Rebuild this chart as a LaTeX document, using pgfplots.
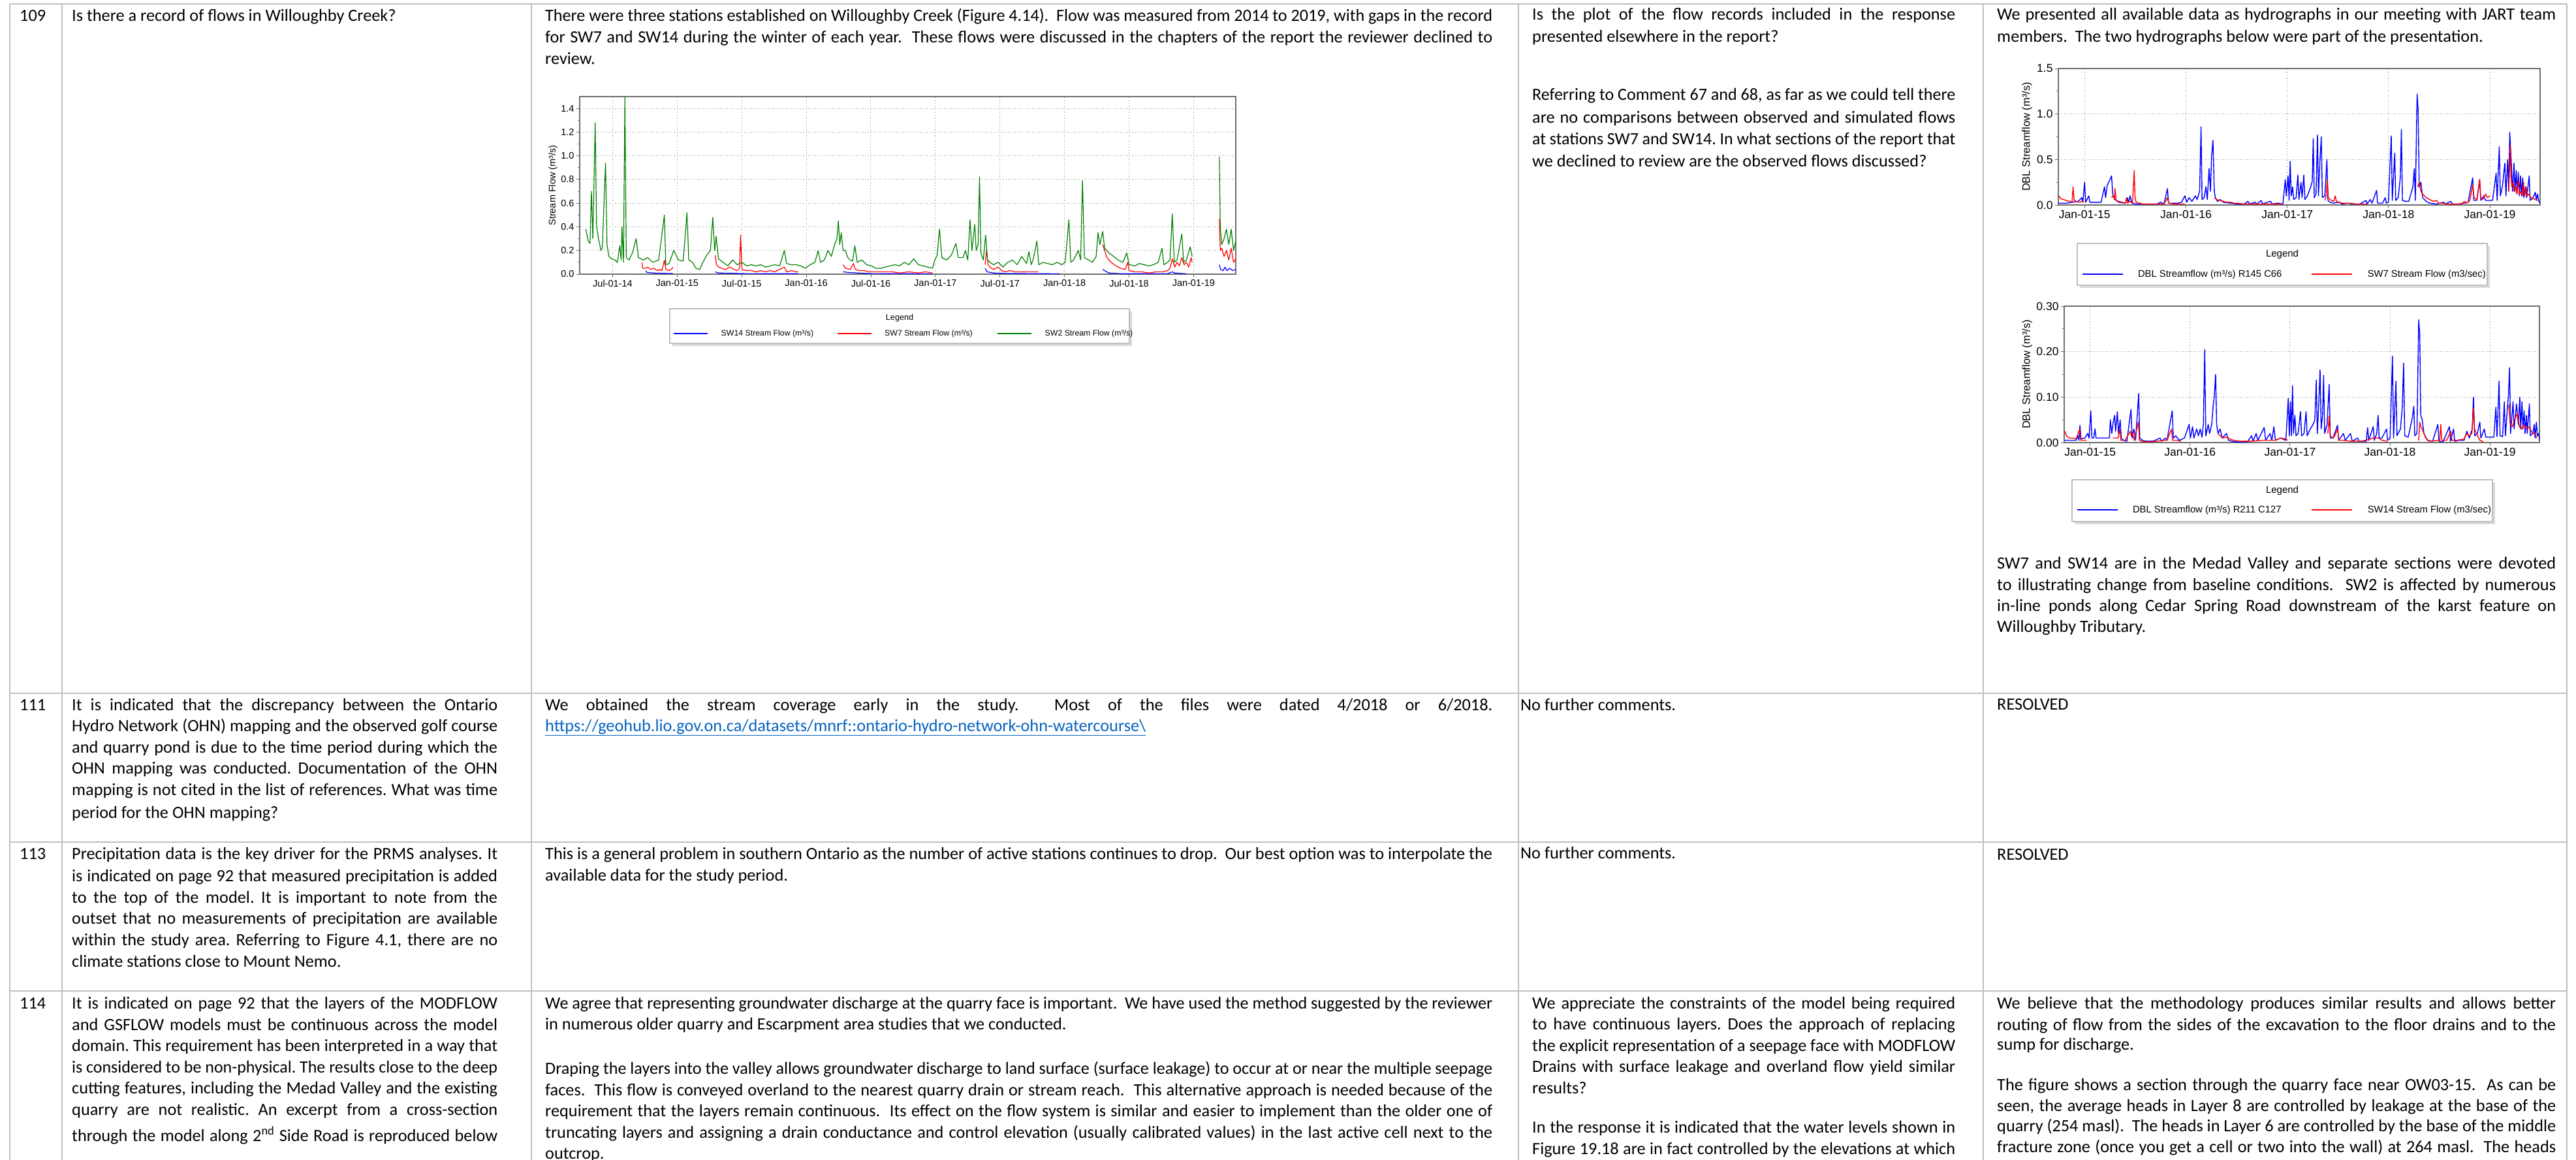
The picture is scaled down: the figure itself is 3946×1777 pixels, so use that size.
\documentclass[border=0pt]{standalone}
\usepackage{pgfplots}
\pgfplotsset{compat=1.18}
\usepackage{graphicx}
\usepackage{fontspec}
\setmainfont{Carlito}
\newfontfamily\arial{Liberation Sans}
\definecolor{tbl}{RGB}{191,191,191}
\definecolor{sgreen}{RGB}{0,128,0}
\definecolor{sred}{RGB}{255,0,0}
\definecolor{sblue}{RGB}{0,0,255}
\definecolor{linkc}{RGB}{5,99,193}
\definecolor{frame}{RGB}{110,110,110}
\newcommand\body{\fontsize{26.3}{32.5}\selectfont\frenchspacing}
\newlength\natw
\newcommand\fit[2]{\settowidth\natw{#2}\ifdim\natw>#1pt\resizebox{#1pt}{\height}{#2}\else\makebox[#1pt][s]{#2}\fi}
\newcommand\TL[3]{\node[anchor=base west,inner sep=0pt,font=\body] at (#1pt,-#2pt) {#3};}
\newcommand\JL[4]{\node[anchor=base west,inner sep=0pt,font=\body] at (#1pt,-#2pt) {\fit{#3}{#4}};}
\pgfplotsset{
 hydro/.style={scale only axis, anchor=south west,
  axis line style={draw=frame, line width=1.3pt},
  tick pos=left, tick align=outside, major tick length=5pt, minor tick length=3pt,
  tick style={frame, line width=0.9pt},
  grid=major, major grid style={gray!70, line width=1pt, dash pattern=on 1.5pt off 3pt},
  /pgf/number format/assume math mode=true, scaled y ticks=false,
  unbounded coords=jump, legend cell align=left,
  legend style={draw=none, fill=none, inner sep=0pt, anchor=west, nodes={inner sep=0pt}},
  every axis plot/.append style={line width=1.4pt, line join=round},
 },
}
\begin{document}
\begin{tikzpicture}
\path[use as bounding box] (0,0) rectangle (3946pt,-1777pt);
\fill[white] (0,0) rectangle (3946pt,-1777pt);
% table grid
\begin{scope}[tbl, line width=2.5pt]
\draw (15pt,-6pt) -- (3932pt,-6pt);
\draw (15pt,-1062pt) -- (3932pt,-1062pt);
\draw (15pt,-1290pt) -- (3932pt,-1290pt);
\draw (15pt,-1518pt) -- (3932pt,-1518pt);
\foreach \x in {15,95,814,2326,3038,3932} {\draw (\x pt,-6pt) -- (\x pt,-1777pt);}
\end{scope}
% legend boxes
\fill[gray!30] (1030pt,-477pt) rectangle (1734pt,-530pt);
\draw[fill=white, draw=gray!50, line width=1.5pt] (1026pt,-473pt) rectangle (1730pt,-526pt);
\node[font=\arial\fontsize{12.6}{14}\selectfont] at (1378pt,-487pt) {Legend};
\fill[gray!30] (3186pt,-377pt) rectangle (3814pt,-441pt);
\draw[fill=white, draw=gray!50, line width=1.5pt] (3182pt,-373pt) rectangle (3810pt,-437pt);
\node[font=\arial\fontsize{15}{17}\selectfont] at (3496pt,-390pt) {Legend};
\fill[gray!30] (3178pt,-739pt) rectangle (3822pt,-803pt);
\draw[fill=white, draw=gray!50, line width=1.5pt] (3174pt,-735pt) rectangle (3818pt,-799pt);
\node[font=\arial\fontsize{15}{17}\selectfont] at (3496pt,-752pt) {Legend};

% ---------- chart 1 ----------
\begin{axis}[hydro, at={(888pt,-420pt)}, width=1005pt, height=272pt,
 xmin=2.94, xmax=63.92, ymin=0, ymax=1.5,
 xtick={6,12,18,24,30,36,42,48,54,60},
 xticklabels={Jul-01-14,Jan-01-15,Jul-01-15,Jan-01-16,Jul-01-16,Jan-01-17,Jul-01-17,Jan-01-18,Jul-01-18,Jan-01-19},
 ytick={0,0.2,0.4,0.6,0.8,1.0,1.2,1.4}, minor ytick={0.1,0.3,0.5,0.7,0.9,1.1,1.3},
 /pgf/number format/fixed, /pgf/number format/fixed zerofill, /pgf/number format/precision=1,
 tick label style={font=\arial\fontsize{14.5}{16}\selectfont},
 ylabel={Stream Flow (m³/s)},
 ylabel style={font=\arial\fontsize{14.5}{16}\selectfont, at={(axis description cs:-0.0408,0.5)}, anchor=center},
 legend columns=3,
 legend style={at={(axis description cs:0.1423,-0.3346)}, font=\arial\fontsize{12.3}{14}\selectfont,
  /tikz/every odd column/.append style={column sep=19pt}},
 legend image code/.code={\draw[#1, line width=2.5pt] (0pt,0pt) -- (52pt,0pt);},
 every axis plot/.append style={line width=1.2pt},
]
\addplot[sblue] coordinates {(9.06,0.03)(9.19,0.015)(9.72,0.01)(10.37,0.008)(11.60,0.005)(11.7,nan)(15.53,0.02)(15.84,0.01)(16.93,0.008)(18.24,0.005)(23.27,0.004)(23.4,nan)(27.42,0.02)(27.86,0.015)(28.73,0.01)(30.04,0.005)(35.73,0.003)(35.8,nan)(40.62,0.05)(40.80,0.02)(41.41,0.01)(42.72,0.005)(44.47,0.005)(47.53,0.003)(47.6,nan)(51.55,0.04)(51.73,0.03)(52.12,0.01)(53.21,0.004)(57.59,0.005)(58.02,0.02)(58.24,0.01)(59.33,0.003)(59.4,nan)(62.39,0.08)(62.52,0.04)(62.74,0.03)(62.92,0.06)(63.09,0.03)(63.36,0.05)(63.62,0.03)(63.92,0.04)};
\addlegendentry{\makebox[177pt][l]{SW14 Stream Flow (m³/s)}}
\addplot[sred] coordinates {(8.71,0.10)(8.80,0.05)(9.06,0.05)(9.28,0.06)(9.50,0.04)(9.85,0.05)(10.15,0.03)(10.37,0.04)(10.59,0.03)(10.81,0.12)(10.94,0.04)(11.25,0.03)(11.55,0.05)(11.60,0.06)(11.7,nan)
(15.53,0.16)(15.66,0.08)(15.84,0.06)(16.14,0.05)(16.49,0.04)(16.93,0.06)(17.28,0.04)(17.58,0.03)(17.80,0.05)(17.89,0.33)(18.02,0.04)(18.46,0.03)(18.90,0.03)(19.33,0.02)(19.77,0.03)(20.21,0.02)(20.64,0.03)(21.08,0.02)(21.52,0.04)(21.96,0.06)(22.17,0.02)(22.61,0.03)(23.05,0.02)(23.27,0.02)(23.4,nan)
(27.42,0.08)(27.64,0.05)(28.08,0.04)(28.38,0.09)(28.56,0.04)(28.95,0.03)(29.39,0.03)(29.83,0.02)(30.26,0.02)(30.70,0.02)(31.36,0.02)(32.01,0.02)(32.67,0.01)(33.54,0.02)(34.42,0.01)(35.07,0.02)(35.73,0.01)(35.8,nan)
(40.62,0.08)(40.75,0.20)(40.89,0.08)(41.06,0.06)(41.41,0.04)(41.85,0.06)(42.15,0.03)(42.50,0.02)(42.94,0.03)(43.38,0.02)(44.03,0.02)(44.69,0.02)(45.56,0.02)(45.6,nan)
(51.55,0.25)(51.73,0.20)(51.90,0.15)(52.12,0.12)(52.34,0.10)(52.78,0.07)(53.21,0.05)(53.65,0.04)(53.87,0.10)(54.00,0.03)(54.53,0.02)(55.18,0.02)(55.84,0.01)(56.49,0.02)(57.15,0.02)(57.59,0.03)(57.80,0.05)(58.02,0.13)(58.24,0.06)(58.46,0.10)(58.68,0.07)(58.90,0.14)(59.12,0.08)(59.33,0.10)(59.55,0.06)(59.77,0.14)(59.86,0.10)(59.9,nan)
(62.39,0.47)(62.48,0.20)(62.61,0.22)(62.83,0.15)(63.05,0.20)(63.27,0.12)(63.49,0.22)(63.71,0.10)(63.92,0.13)};
\addlegendentry{\makebox[172pt][l]{SW7 Stream Flow (m³/s)}}
\addplot[sgreen] coordinates {(3.51,0.38)(3.73,0.28)(3.90,0.26)(4.03,0.70)(4.16,0.30)(4.38,1.28)(4.51,0.40)(4.69,0.30)(4.91,0.20)(5.04,0.22)(5.34,0.94)(5.48,0.25)(5.65,0.15)(5.91,0.13)(6.22,0.12)(6.44,0.10)(6.66,0.24)(6.79,0.12)(6.87,0.40)(7.01,0.10)(7.14,1.50)(7.27,0.14)(7.53,0.12)(7.84,0.18)(8.19,0.30)(8.40,0.14)(8.84,0.12)(9.28,0.14)(9.72,0.10)(10.28,0.12)(10.81,0.50)(10.94,0.08)(11.25,0.09)(11.68,0.20)(12.12,0.12)(12.56,0.11)(12.91,0.52)(13.08,0.12)(13.43,0.10)(13.74,0.05)(14.09,0.04)(14.39,0.10)(14.74,0.16)(15.09,0.20)(15.31,0.48)(15.49,0.20)(15.62,0.32)(15.84,0.13)(16.27,0.10)(16.71,0.07)(17.15,0.12)(17.58,0.08)(18.02,0.10)(18.46,0.07)(18.90,0.08)(19.33,0.07)(19.77,0.08)(20.21,0.06)(20.64,0.07)(21.08,0.08)(21.52,0.07)(21.96,0.20)(22.17,0.09)(22.61,0.08)(23.05,0.08)(23.49,0.07)(23.92,0.05)(24.36,0.08)(24.80,0.10)(25.10,0.20)(25.32,0.10)(25.67,0.12)(26.02,0.20)(26.33,0.15)(26.63,0.25)(26.85,0.30)(26.98,0.45)(27.11,0.25)(27.25,0.35)(27.42,0.20)(27.64,0.20)(27.86,0.14)(28.08,0.12)(28.30,0.11)(28.51,0.24)(28.73,0.10)(29.17,0.12)(29.61,0.08)(30.04,0.07)(30.48,0.05)(30.92,0.05)(31.36,0.06)(31.79,0.07)(32.23,0.08)(32.67,0.07)(33.10,0.10)(33.54,0.08)(33.98,0.13)(34.42,0.08)(34.85,0.07)(35.29,0.06)(35.73,0.05)(35.95,0.12)(36.16,0.16)(36.38,0.38)(36.60,0.14)(37.04,0.12)(37.48,0.16)(37.91,0.26)(38.13,0.14)(38.57,0.14)(38.79,0.20)(39.01,0.12)(39.22,0.46)(39.40,0.20)(39.66,0.42)(39.79,0.20)(39.97,0.25)(40.10,0.82)(40.23,0.18)(40.45,0.12)(40.67,0.33)(40.84,0.12)(41.06,0.10)(41.41,0.08)(41.85,0.10)(42.28,0.06)(42.72,0.10)(43.16,0.12)(43.60,0.08)(44.03,0.15)(44.47,0.09)(44.69,0.19)(44.91,0.08)(45.13,0.14)(45.43,0.28)(45.61,0.08)(46.00,0.10)(46.44,0.09)(46.87,0.08)(47.31,0.10)(47.75,0.08)(48.06,0.10)(48.41,0.46)(48.58,0.10)(48.84,0.12)(49.28,0.20)(49.50,0.12)(49.67,0.79)(49.85,0.14)(50.24,0.12)(50.59,0.10)(50.94,0.15)(51.11,0.35)(51.29,0.25)(51.55,0.36)(51.73,0.22)(52.12,0.18)(52.56,0.15)(52.99,0.12)(53.43,0.10)(53.78,0.18)(54.00,0.08)(54.53,0.07)(54.96,0.09)(55.40,0.08)(55.84,0.07)(56.27,0.08)(56.71,0.10)(57.06,0.22)(57.24,0.08)(57.59,0.10)(57.80,0.12)(58.02,0.51)(58.20,0.10)(58.46,0.12)(58.90,0.34)(59.07,0.10)(59.33,0.12)(59.68,0.23)(59.86,0.15)(59.9,nan)(62.39,0.99)(62.48,0.40)(62.61,0.25)(62.83,0.30)(63.05,0.38)(63.27,0.25)(63.49,0.38)(63.71,0.20)(63.92,0.28)};
\addlegendentry{SW2 Stream Flow (m³/s)}
\end{axis}

% ---------- chart 2 ----------
\begin{axis}[hydro, at={(3153pt,-314pt)}, width=738pt, height=209pt,
 xmin=8.89, xmax=65.95, ymin=0, ymax=1.5,
 xtick={12,24,36,48,60}, xticklabels={Jan-01-15,Jan-01-16,Jan-01-17,Jan-01-18,Jan-01-19},
 ytick={0,0.5,1.0,1.5}, minor ytick={0.25,0.75,1.25},
 /pgf/number format/fixed, /pgf/number format/fixed zerofill, /pgf/number format/precision=1,
 tick label style={font=\arial\fontsize{17.5}{19}\selectfont},
 ylabel={DBL Streamflow (m³/s)},
 ylabel style={font=\arial\fontsize{16.5}{18}\selectfont, at={(axis description cs:-0.065,0.5)}, anchor=center},
 legend columns=2,
 legend style={at={(axis description cs:0.0474,-0.5072)}, font=\arial\fontsize{14.8}{17}\selectfont,
  /tikz/every odd column/.append style={column sep=22pt}},
 legend image code/.code={\draw[#1, line width=2.8pt] (0pt,0pt) -- (62pt,0pt);},
]
\addplot[sblue] coordinates {(8.89,0.02)(9.18,0.02)(9.81,0.02)(10.63,0.03)(11.25,0.04)(11.67,0.08)(11.79,0.03)(12.00,0.25)(12.12,0.03)(12.50,0.10)(12.62,0.03)(13.12,0.03)(13.95,0.03)(14.36,0.20)(14.48,0.08)(14.69,0.22)(14.86,0.25)(15.02,0.28)(15.19,0.32)(15.35,0.10)(15.60,0.06)(16.02,0.03)(16.84,0.02)(17.05,0.08)(17.22,0.03)(17.38,0.10)(17.59,0.02)(18.09,0.01)(18.92,0.01)(19.74,0.01)(20.57,0.01)(20.99,0.03)(21.40,0.01)(21.81,0.18)(21.94,0.02)(22.43,0.02)(23.06,0.02)(23.47,0.03)(23.88,0.10)(24.09,0.03)(24.38,0.08)(24.71,0.04)(25.13,0.10)(25.33,0.06)(25.62,0.15)(25.79,0.86)(25.91,0.06)(26.16,0.08)(26.37,0.20)(26.53,0.06)(26.74,0.40)(26.91,0.15)(27.03,0.52)(27.20,0.71)(27.36,0.15)(27.49,0.08)(27.74,0.04)(28.03,0.06)(28.44,0.03)(29.27,0.02)(30.10,0.01)(30.92,0.01)(31.34,0.04)(31.54,0.01)(32.17,0.03)(32.37,0.01)(32.91,0.05)(33.08,0.01)(33.62,0.03)(34.03,0.04)(34.24,0.01)(34.86,0.02)(35.48,0.01)(35.77,0.28)(35.89,0.10)(36.10,0.32)(36.22,0.05)(36.35,0.48)(36.47,0.10)(36.64,0.20)(36.76,0.06)(37.05,0.08)(37.26,0.33)(37.38,0.06)(37.63,0.25)(37.76,0.08)(37.96,0.33)(38.09,0.06)(38.38,0.10)(38.58,0.15)(38.79,0.20)(38.96,0.26)(39.08,0.73)(39.20,0.08)(39.41,0.12)(39.58,0.77)(39.70,0.10)(39.87,0.48)(40.03,0.75)(40.16,0.08)(40.45,0.10)(40.70,0.50)(40.82,0.05)(41.07,0.03)(41.48,0.02)(42.10,0.03)(42.52,0.01)(43.14,0.02)(43.76,0.01)(44.59,0.01)(45.33,0.05)(45.46,0.01)(45.83,0.06)(46.04,0.02)(46.58,0.16)(46.70,0.02)(47.28,0.02)(47.61,0.08)(47.74,0.02)(47.98,0.03)(48.32,0.76)(48.44,0.05)(48.73,0.57)(48.85,0.05)(49.14,0.08)(49.39,0.30)(49.52,0.83)(49.64,0.05)(49.97,0.04)(50.39,0.04)(50.88,0.20)(51.05,0.40)(51.17,0.05)(51.38,1.22)(51.50,1.05)(51.63,0.20)(51.83,0.25)(52.04,0.08)(52.46,0.04)(52.87,0.02)(53.70,0.01)(54.53,0.03)(54.73,0.01)(55.35,0.04)(55.56,0.01)(56.18,0.01)(57.01,0.02)(57.42,0.03)(57.96,0.30)(58.09,0.05)(58.46,0.05)(58.79,0.28)(58.92,0.05)(59.29,0.10)(59.49,0.05)(59.99,0.05)(60.32,0.05)(60.74,0.35)(60.86,0.05)(61.11,0.64)(61.24,0.10)(61.48,0.20)(61.77,0.46)(61.90,0.10)(62.10,0.50)(62.23,0.15)(62.35,0.80)(62.55,0.45)(62.68,0.15)(62.86,0.46)(62.96,0.15)(63.12,0.38)(63.22,0.12)(63.37,0.36)(63.48,0.10)(63.63,0.32)(63.73,0.10)(63.89,0.30)(64.02,0.08)(64.22,0.20)(64.35,0.08)(64.66,0.32)(64.76,0.05)(65.12,0.08)(65.38,0.14)(65.51,0.05)(65.64,0.12)(65.79,0.04)(65.95,0.02)};
\addlegendentry{\makebox[265pt][l]{DBL Streamflow (m³/s) R145 C66}}
\addplot[sred] coordinates {(8.98,0.10)(9.14,0.07)(9.47,0.06)(9.81,0.05)(10.22,0.04)(10.51,0.03)(10.63,0.20)(10.76,0.05)(11.05,0.04)(11.38,0.03)(11.67,0.04)(11.88,0.03)(11.9,nan)
(15.19,0.08)(15.40,0.10)(15.52,0.06)(15.60,0.18)(15.73,0.05)(16.02,0.04)(16.43,0.03)(16.84,0.02)(16.97,0.08)(17.09,0.02)(17.34,0.04)(17.67,0.02)(17.88,0.38)(17.96,0.10)(18.09,0.03)(18.50,0.02)(18.92,0.01)(19.74,0.01)(20.57,0.01)(21.40,0.01)(21.81,0.08)(21.94,0.02)(22.64,0.01)(23.47,0.01)(23.88,0.01)(23.9,nan)
(27.40,0.08)(27.61,0.06)(28.03,0.05)(28.44,0.04)(28.85,0.03)(29.27,0.03)(29.68,0.02)(30.10,0.02)(30.92,0.01)(31.75,0.01)(32.99,0.01)(34.24,0.01)(35.48,0.01)(35.5,nan)
(40.45,0.05)(40.61,0.10)(40.74,0.28)(40.86,0.08)(41.07,0.06)(41.48,0.04)(41.69,0.10)(41.81,0.04)(42.10,0.03)(42.52,0.02)(43.35,0.02)(44.18,0.01)(45.42,0.01)(45.5,nan)
(51.46,0.20)(51.63,0.25)(51.83,0.15)(52.04,0.12)(52.25,0.10)(52.46,0.08)(52.87,0.06)(53.29,0.04)(53.70,0.05)(53.91,0.02)(54.32,0.02)(54.94,0.01)(55.77,0.01)(56.60,0.01)(57.01,0.04)(57.22,0.02)(57.63,0.05)(57.96,0.22)(58.13,0.08)(58.46,0.06)(58.79,0.28)(58.92,0.08)(59.16,0.06)(59.49,0.12)(59.70,0.08)(59.99,0.10)(60.0,nan)
(62.24,0.15)(62.42,0.66)(62.50,0.30)(62.60,0.20)(62.76,0.25)(62.86,0.15)(63.06,0.20)(63.19,0.12)(63.37,0.28)(63.48,0.12)(63.63,0.15)(63.84,0.10)(63.99,0.25)(64.09,0.10)(64.30,0.20)(64.40,0.10)(64.61,0.12)(64.87,0.08)(65.12,0.07)(65.38,0.06)(65.64,0.05)};
\addlegendentry{SW7 Stream Flow (m3/sec)}
\end{axis}

% ---------- chart 3 ----------
\begin{axis}[hydro, at={(3162pt,-678pt)}, width=728pt, height=209pt,
 xmin=8.89, xmax=65.95, ymin=0, ymax=0.3,
 xtick={12,24,36,48,60}, xticklabels={Jan-01-15,Jan-01-16,Jan-01-17,Jan-01-18,Jan-01-19},
 ytick={0,0.1,0.2,0.3}, minor ytick={0.05,0.15,0.25},
 /pgf/number format/fixed, /pgf/number format/fixed zerofill, /pgf/number format/precision=2,
 tick label style={font=\arial\fontsize{17.5}{19}\selectfont},
 ylabel={DBL Streamflow (m³/s)},
 ylabel style={font=\arial\fontsize{16.5}{18}\selectfont, at={(axis description cs:-0.078,0.5)}, anchor=center},
 legend columns=2,
 legend style={at={(axis description cs:0.0247,-0.4928)}, font=\arial\fontsize{14.8}{17}\selectfont,
  /tikz/every odd column/.append style={column sep=22pt}},
 legend image code/.code={\draw[#1, line width=2.8pt] (0pt,0pt) -- (62pt,0pt);},
]
\addplot[sblue] coordinates {(8.89,0.005)(9.48,0.005)(10.32,0.005)(10.53,0.015)(10.66,0.005)(10.78,0.038)(10.91,0.008)(11.37,0.01)(11.71,0.02)(11.87,0.01)(12.08,0.07)(12.21,0.01)(12.42,0.01)(12.59,0.03)(12.71,0.01)(13.68,0.01)(14.31,0.01)(14.43,0.05)(14.60,0.02)(14.77,0.045)(14.94,0.06)(15.06,0.025)(15.27,0.068)(15.40,0.02)(15.61,0.05)(15.73,0.01)(15.99,0.005)(16.41,0.003)(16.91,0.073)(17.04,0.01)(17.25,0.03)(17.46,0.005)(17.83,0.108)(17.96,0.01)(18.29,0.005)(18.71,0.003)(19.55,0.003)(20.39,0.01)(20.60,0.003)(21.02,0.01)(21.23,0.005)(21.86,0.07)(21.99,0.01)(22.28,0.015)(22.70,0.005)(23.33,0.01)(23.88,0.04)(24.04,0.01)(24.30,0.035)(24.46,0.01)(24.80,0.03)(25.01,0.015)(25.22,0.03)(25.43,0.012)(25.60,0.04)(25.76,0.205)(25.89,0.015)(26.18,0.04)(26.35,0.02)(26.60,0.04)(26.77,0.08)(26.90,0.10)(27.07,0.15)(27.19,0.04)(27.36,0.02)(27.61,0.03)(27.86,0.01)(28.37,0.02)(28.62,0.005)(29.21,0.002)(30.04,0.001)(30.88,0.002)(31.39,0.015)(31.56,0.003)(31.93,0.02)(32.14,0.005)(32.90,0.033)(33.07,0.005)(33.61,0.02)(33.82,0.005)(34.07,0.035)(34.24,0.005)(34.87,0.01)(35.50,0.005)(35.79,0.097)(35.92,0.015)(36.05,0.09)(36.17,0.015)(36.30,0.125)(36.42,0.02)(36.59,0.06)(36.72,0.015)(36.97,0.02)(37.26,0.068)(37.39,0.015)(37.68,0.02)(37.93,0.068)(38.06,0.015)(38.44,0.03)(38.77,0.04)(38.98,0.05)(39.15,0.137)(39.28,0.02)(39.44,0.08)(39.61,0.16)(39.74,0.03)(39.91,0.06)(40.03,0.148)(40.16,0.02)(40.45,0.04)(40.70,0.128)(40.83,0.01)(41.16,0.01)(41.71,0.038)(41.84,0.005)(42.42,0.02)(42.63,0.005)(43.26,0.02)(43.47,0.003)(44.10,0.01)(44.31,0.003)(45.15,0.003)(45.32,0.033)(45.45,0.005)(45.99,0.035)(46.12,0.005)(46.41,0.02)(46.58,0.06)(46.70,0.01)(47.04,0.01)(47.59,0.03)(47.71,0.005)(48.01,0.01)(48.30,0.19)(48.43,0.01)(48.72,0.135)(48.84,0.015)(49.26,0.03)(49.47,0.075)(49.64,0.175)(49.77,0.015)(50.19,0.012)(50.69,0.055)(50.86,0.08)(50.98,0.015)(51.24,0.02)(51.45,0.27)(51.57,0.24)(51.70,0.06)(51.87,0.05)(52.08,0.02)(52.50,0.005)(53.12,0.003)(53.75,0.04)(53.88,0.003)(54.38,0.002)(55.14,0.035)(55.27,0.003)(55.64,0.03)(55.77,0.003)(56.27,0.005)(56.90,0.005)(57.23,0.025)(57.53,0.01)(57.87,0.03)(58.03,0.10)(58.16,0.015)(58.49,0.02)(58.79,0.045)(58.91,0.01)(59.33,0.03)(59.50,0.012)(60.01,0.012)(60.47,0.012)(60.72,0.078)(60.85,0.013)(61.10,0.135)(61.22,0.015)(61.52,0.013)(61.73,0.09)(61.86,0.015)(62.23,0.107)(62.36,0.165)(62.48,0.02)(62.78,0.09)(62.90,0.03)(63.20,0.085)(63.41,0.04)(63.59,0.10)(63.69,0.03)(63.85,0.09)(63.96,0.03)(64.11,0.07)(64.22,0.02)(64.38,0.06)(64.48,0.02)(64.74,0.085)(64.85,0.015)(65.16,0.02)(65.32,0.04)(65.42,0.01)(65.58,0.045)(65.69,0.015)(65.84,0.02)(65.95,0.005)};
\addlegendentry{\makebox[273pt][l]{DBL Streamflow (m³/s) R211 C127}}
\addplot[sred] coordinates {(8.98,0.025)(9.15,0.015)(9.48,0.01)(9.90,0.01)(10.32,0.008)(10.74,0.03)(10.87,0.005)(11.16,0.005)(11.58,0.005)(11.6,nan)
(14.73,0.01)(15.36,0.01)(15.57,0.03)(15.69,0.005)(16.20,0.005)(16.83,0.025)(16.95,0.015)(17.12,0.02)(17.29,0.005)(17.79,0.045)(17.92,0.005)(18.29,0.002)(19.55,0.002)(20.81,0.005)(21.23,0.005)(21.78,0.03)(21.90,0.005)(22.49,0.005)(22.91,0.003)(23.0,nan)
(27.36,0.02)(27.61,0.015)(27.95,0.01)(28.37,0.012)(28.79,0.008)(29.21,0.005)(30.04,0.003)(31.30,0.003)(32.56,0.005)(33.40,0.005)(34.24,0.005)(34.87,0.01)(35.50,0.008)(35.71,0.005)(35.8,nan)
(40.54,0.02)(40.70,0.058)(40.83,0.015)(41.16,0.01)(41.37,0.015)(41.71,0.03)(41.84,0.005)(42.42,0.005)(43.26,0.003)(44.31,0.003)(45.15,0.005)(45.99,0.01)(46.62,0.01)(47.04,0.005)(47.67,0.003)(47.7,nan)
(51.45,0.005)(51.57,0.045)(51.70,0.035)(51.87,0.03)(52.08,0.02)(52.29,0.01)(52.71,0.003)(53.97,0.005)(54.10,0.04)(54.22,0.005)(54.81,0.005)(55.31,0.025)(55.44,0.005)(56.06,0.005)(56.90,0.008)(57.23,0.02)(57.53,0.015)(57.83,0.02)(58.03,0.075)(58.16,0.03)(58.37,0.02)(58.79,0.005)(59.21,0.002)(59.3,nan)
(62.27,0.083)(62.44,0.04)(62.69,0.035)(62.99,0.05)(63.28,0.065)(63.54,0.035)(63.80,0.03)(64.06,0.04)(64.32,0.03)(64.58,0.035)(64.85,0.03)(65.11,0.02)(65.37,0.02)(65.63,0.01)};
\addlegendentry{SW14 Stream Flow (m3/sec)}
\end{axis}

% ---------- text ----------
% row 109
\TL{30}{33}{109}
\TL{110}{33}{Is there a record of flows in Willoughby Creek?}
\JL{835}{33}{1451}{There were three stations established on Willoughby Creek (Figure 4.14).\ \ Flow was measured from 2014 to 2019, with gaps in the record}
\JL{835}{65.5}{1451}{for SW7 and SW14 during the winter of each year.\ \ These flows were discussed in the chapters of the report the reviewer declined to}
\TL{835}{98}{review.}
\JL{2347}{31}{648}{Is the plot of the flow records included in the response}
\TL{2347}{65}{presented elsewhere in the report?}
\JL{2347}{153}{648}{Referring to Comment 67 and 68, as far as we could tell there}
\JL{2347}{188}{648}{are no comparisons between observed and simulated flows}
\JL{2347}{221}{648}{at stations SW7 and SW14. In what sections of the report that}
\TL{2347}{255}{we declined to review are the observed flows discussed?}
\JL{3059}{31}{856}{We presented all available data as hydrographs in our meeting with JART team}
\TL{3059}{65}{members.\ \ The two hydrographs below were part of the presentation.}
\JL{3059}{871}{856}{SW7 and SW14 are in the Medad Valley and separate sections were devoted}
\JL{3059}{904}{856}{to illustrating change from baseline conditions.\ \ SW2 is affected by numerous}
\JL{3059}{936}{856}{in-line ponds along Cedar Spring Road downstream of the karst feature on}
\TL{3059}{968}{Willoughby Tributary.}
% row 111
\TL{30}{1088}{111}
\JL{110}{1088}{652}{It is indicated that the discrepancy between the Ontario}
\JL{110}{1120}{652}{Hydro Network (OHN) mapping and the observed golf course}
\JL{110}{1153}{652}{and quarry pond is due to the time period during which the}
\JL{110}{1185}{652}{OHN mapping was conducted. Documentation of the OHN}
\JL{110}{1218}{652}{mapping is not cited in the list of references. What was time}
\TL{110}{1253}{period for the OHN mapping?}
\JL{835}{1088}{1451}{We obtained the stream coverage early in the study.\ \ Most of the files were dated 4/2018 or 6/2018.}
\TL{835}{1120}{\color{linkc}\underline{https://geohub.lio.gov.on.ca/datasets/mnrf::ontario-hydro-network-ohn-watercourse\textbackslash}}
\TL{2329}{1088}{No further comments.}
\TL{3059}{1087}{RESOLVED}
% row 113
\TL{30}{1316}{113}
\JL{110}{1316}{652}{Precipitation data is the key driver for the PRMS analyses. It}
\JL{110}{1350}{652}{is indicated on page 92 that measured precipitation is added}
\JL{110}{1383}{652}{to the top of the model. It is important to note from the}
\JL{110}{1415}{652}{outset that no measurements of precipitation are available}
\JL{110}{1448}{652}{within the study area. Referring to Figure 4.1, there are no}
\TL{110}{1481}{climate stations close to Mount Nemo.}
\JL{835}{1316}{1451}{This is a general problem in southern Ontario as the number of active stations continues to drop.\ \ Our best option was to interpolate the}
\TL{835}{1349}{available data for the study period.}
\TL{2329}{1315}{No further comments.}
\TL{3059}{1317}{RESOLVED}
% row 114
\TL{30}{1545}{114}
\JL{110}{1545}{652}{It is indicated on page 92 that the layers of the MODFLOW}
\JL{110}{1578}{652}{and GSFLOW models must be continuous across the model}
\JL{110}{1610}{652}{domain. This requirement has been interpreted in a way that}
\JL{110}{1643}{652}{is considered to be non-physical. The results close to the deep}
\JL{110}{1675}{652}{cutting features, including the Medad Valley and the existing}
\JL{110}{1708}{652}{quarry are not realistic. An excerpt from a cross-section}
\JL{110}{1748}{652}{through the model along 2\textsuperscript{nd} Side Road is reproduced below}
\JL{835}{1545}{1451}{We agree that representing groundwater discharge at the quarry face is important.\ \ We have used the method suggested by the reviewer}
\TL{835}{1577}{in numerous older quarry and Escarpment area studies that we conducted.}
\JL{835}{1645}{1451}{Draping the layers into the valley allows groundwater discharge to land surface (surface leakage) to occur at or near the multiple seepage}
\JL{835}{1678}{1451}{faces.\ \ This flow is conveyed overland to the nearest quarry drain or stream reach.\ \ This alternative approach is needed because of the}
\JL{835}{1710}{1451}{requirement that the layers remain continuous.\ \ Its effect on the flow system is similar and easier to implement than the older one of}
\JL{835}{1743}{1451}{truncating layers and assigning a drain conductance and control elevation (usually calibrated values) in the last active cell next to the}
\TL{835}{1775}{outcrop.}
\JL{2347}{1545}{648}{We appreciate the constraints of the model being required}
\JL{2347}{1577}{648}{to have continuous layers. Does the approach of replacing}
\JL{2347}{1610}{648}{the explicit representation of a seepage face with MODFLOW}
\JL{2347}{1642}{648}{Drains with surface leakage and overland flow yield similar}
\TL{2347}{1675}{results?}
\JL{2347}{1735}{648}{In the response it is indicated that the water levels shown in}
\JL{2347}{1768}{648}{Figure 19.18 are in fact controlled by the elevations at which}
\JL{3059}{1545}{856}{We believe that the methodology produces similar results and allows better}
\JL{3059}{1578}{856}{routing of flow from the sides of the excavation to the floor drains and to the}
\TL{3059}{1608}{sump for discharge.}
\JL{3059}{1670}{856}{The figure shows a section through the quarry face near OW03-15.\ \ As can be}
\JL{3059}{1702}{856}{seen, the average heads in Layer 8 are controlled by leakage at the base of the}
\JL{3059}{1733}{856}{quarry (254 masl).\ \ The heads in Layer 6 are controlled by the base of the middle}
\JL{3059}{1765}{856}{fracture zone (once you get a cell or two into the wall) at 264 masl.\ \ The heads}
\end{tikzpicture}
\end{document}
